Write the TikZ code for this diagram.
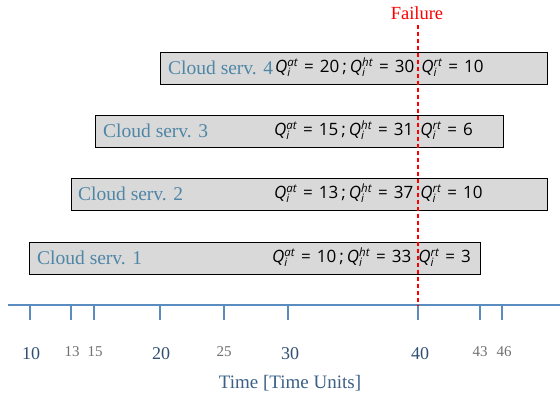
\documentclass[tikz,border=0pt]{standalone}
\usepackage{fontspec}
\setmainfont{Liberation Serif}
\newfontfamily\fmf{Open Sans}
\definecolor{lblc}{HTML}{4F86A6}
\definecolor{axc}{HTML}{5B8CBF}
\definecolor{bigc}{HTML}{2F4F73}
\definecolor{timec}{HTML}{3B5F85}
\definecolor{boxc}{HTML}{D9D9D9}
\definecolor{smc}{HTML}{707070}
\newcommand{\qv}[1]{\mbox{\fmf\itshape Q}$_{\mbox{\fmf\itshape\fontsize{11.5}{11.5}\selectfont i}}^{\mbox{\fmf\itshape\fontsize{11.5}{11.5}\selectfont #1}}$}
\newcommand{\fml}[3]{{\fmf\fontsize{17}{18}\selectfont \qv{at}\hspace{6pt}=\hspace{6pt}#1\hspace{3pt};\hspace{3pt}\qv{ht}\hspace{6pt}=\hspace{6pt}#2\hspace{7pt}\qv{rt}\hspace{6pt}=\hspace{6pt}#3}}
\begin{document}
\begin{tikzpicture}[x=1pt,y=-1pt,
  sbox/.style={draw=black,fill=boxc,line width=0.8pt,minimum height=32pt,inner sep=0pt,anchor=north west},
  slbl/.style={text=lblc,font=\fontsize{19.5}{20}\selectfont,anchor=west,inner sep=0pt},
  fbox/.style={anchor=west,inner sep=0pt},
  tk/.style={axc,line width=1.2pt},
  bigt/.style={text=bigc,font=\fontsize{18}{19}\selectfont,inner sep=0pt},
  smt/.style={text=smc,font=\fontsize{15}{16}\selectfont,inner sep=0pt}]
\useasboundingbox (0,0) rectangle (560,401);
% boxes
\node[sbox,minimum width=387pt] (b4) at (160,52) {};
\node[sbox,minimum width=408pt] (b3) at (95,115) {};
\node[sbox,minimum width=476pt] (b2) at (71,178) {};
\node[sbox,minimum width=451pt] (b1) at (29,242) {};
\node[slbl] (l4) at (168,68) {Cloud serv. 4};
\node[slbl] (l3) at (103,131) {Cloud serv. 3};
\node[slbl] (l2) at (78,194) {Cloud serv. 2};
\node[slbl] (l1) at (37,258) {Cloud serv. 1};
\node[fbox] (f4) at (275,67) {\fml{20}{30}{10}};
\node[fbox] (f3) at (274,130) {\fml{15}{31}{6}};
\node[fbox] (f2) at (274,193) {\fml{13}{37}{10}};
\node[fbox] (f1) at (272,257) {\fml{10}{33}{3}};
% axis
\coordinate (a0) at (8,305);
\coordinate (a1) at (560,305);
\draw[axc,line width=1.6pt] (a0) -- (a1);
\foreach \x/\n in {30/t10,71/t13,94/t15,160/t20,224/t25,288/t30,418/t40,480/t43,502/t46}{
  \coordinate (\n) at (\x,305);
  \draw[tk] (\n) -- ++(0,15);
}
\node[bigt] (n10) at (31,354) {10};
\node[smt] (n13) at (72,352) {13};
\node[smt] (n15) at (95,352) {15};
\node[bigt] (n20) at (161,354) {20};
\node[smt] (n25) at (224,352) {25};
\node[bigt] (n30) at (290,354) {30};
\node[bigt] (n40) at (420,354) {40};
\node[smt] (n43) at (480,352) {43};
\node[smt] (n46) at (504,352) {46};
\node[text=timec,font=\fontsize{19}{20}\selectfont,inner sep=0pt] (tl) at (290,383) {Time [Time Units]};
% failure
\node[text=red,font=\fontsize{18.5}{19}\selectfont,inner sep=0pt] (fl) at (417,13) {Failure};
\coordinate (fb) at (418,305);
\draw[red,dashed,line width=1.8pt,dash pattern=on 4pt off 3pt] (fl.south -| fb) ++(0,5) -- (fb);
\end{tikzpicture}
\end{document}
